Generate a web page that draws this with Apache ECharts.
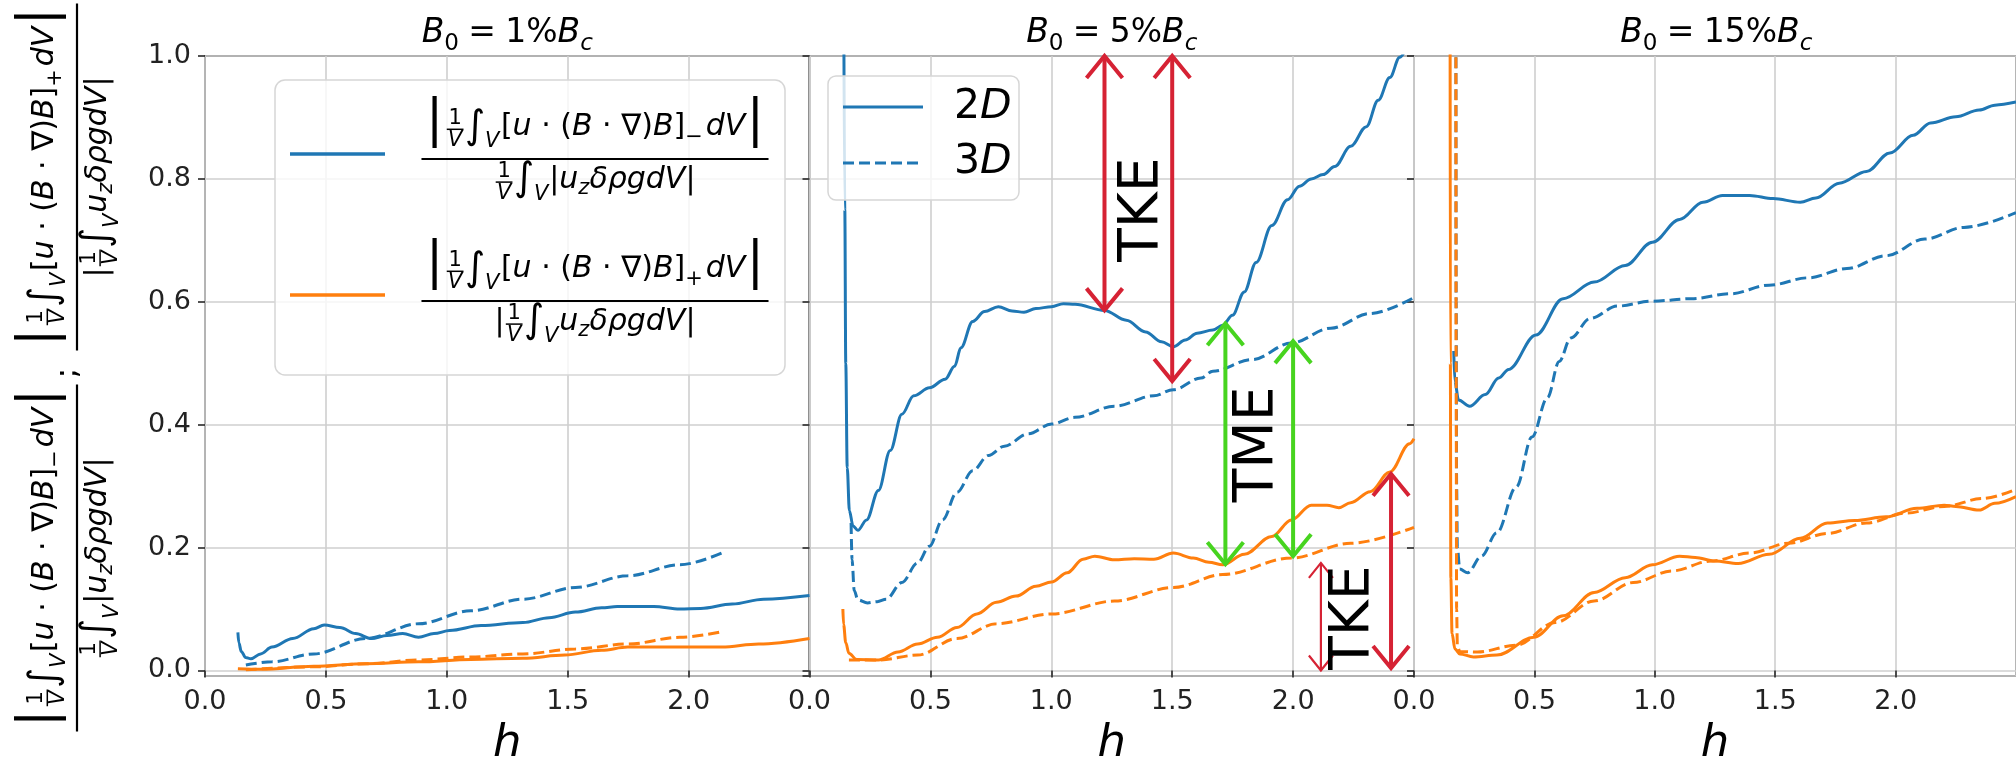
<!DOCTYPE html>
<html>
<head>
<meta charset="utf-8">
<script src="https://cdn.jsdelivr.net/npm/echarts@6/dist/echarts.min.js"></script>
<style>
html,body{margin:0;padding:0;background:#ffffff;}
#chart{width:2016px;height:772px;}
</style>
</head>
<body>
<div id="chart"></div>
<script>
// ---------------- DATA ----------------
const hTickLabels = ['0.0', '0.5', '1.0', '1.5', '2.0'];
const yTickLabels = ['0.0', '0.2', '0.4', '0.6', '0.8', '1.0'];
const fieldPercent = ['1', '5', '15'];          // B0 = x% Bc

// Panel 1 : B0 = 1% Bc   ([h, ratio])
const p1_2D_minus = [[0.136,0.062],[0.14,0.045],[0.15,0.031],[0.168,0.021],[0.19,0.019],[0.23,0.027],[0.277,0.038],[0.363,0.052],[0.45,0.068],[0.493,0.074],[0.558,0.070],[0.623,0.060],[0.688,0.052],[0.753,0.057],[0.818,0.060],[0.883,0.054],[0.947,0.060],[1.012,0.065],[1.142,0.073],[1.315,0.078],[1.423,0.086],[1.532,0.095],[1.64,0.102],[1.705,0.104],[1.856,0.104],[1.964,0.100],[2.05,0.101],[2.18,0.108],[2.31,0.116],[2.5,0.122]];
const p1_3D_minus = [[0.169,0.009],[0.277,0.014],[0.45,0.027],[0.666,0.052],[0.883,0.076],[1.099,0.097],[1.315,0.116],[1.532,0.135],[1.748,0.154],[1.964,0.172],[2.137,0.191]];
const p1_2D_plus  = [[0.136,0.003],[0.234,0.002],[0.45,0.007],[0.666,0.011],[0.883,0.014],[1.099,0.018],[1.315,0.020],[1.488,0.025],[1.64,0.033],[1.748,0.038],[1.964,0.038],[2.137,0.038],[2.29,0.043],[2.5,0.052]];
const p1_3D_plus  = [[0.169,0.001],[0.45,0.006],[0.666,0.011],[0.883,0.017],[1.099,0.022],[1.315,0.027],[1.532,0.035],[1.748,0.043],[1.964,0.054],[2.137,0.063]];

// Panel 2 : B0 = 5% Bc
const p2_2D_minus = [[0.142,1.05],[0.146,0.75],[0.15,0.5],[0.156,0.33],[0.165,0.26],[0.18,0.235],[0.2,0.228],[0.236,0.245],[0.285,0.293],[0.334,0.358],[0.382,0.417],[0.431,0.447],[0.496,0.460],[0.561,0.474],[0.6,0.495],[0.626,0.525],[0.675,0.568],[0.724,0.584],[0.781,0.592],[0.838,0.585],[0.887,0.583],[0.936,0.589],[1.001,0.592],[1.05,0.597],[1.098,0.596],[1.22,0.586],[1.31,0.570],[1.39,0.551],[1.456,0.535],[1.505,0.527],[1.554,0.538],[1.603,0.549],[1.668,0.554],[1.709,0.562],[1.749,0.578],[1.798,0.616],[1.847,0.664],[1.912,0.724],[1.977,0.766],[2.026,0.788],[2.075,0.800],[2.124,0.807],[2.172,0.820],[2.238,0.853],[2.303,0.885],[2.352,0.928],[2.40,0.965],[2.441,0.998],[2.5,1.05]];
const p2_3D_minus = [[0.172,0.24],[0.176,0.18],[0.185,0.13],[0.2,0.115],[0.24,0.110],[0.28,0.112],[0.317,0.116],[0.382,0.143],[0.447,0.175],[0.496,0.202],[0.55,0.245],[0.61,0.29],[0.675,0.325],[0.74,0.35],[0.806,0.365],[0.903,0.385],[1.001,0.401],[1.098,0.412],[1.261,0.430],[1.424,0.447],[1.505,0.457],[1.619,0.476],[1.668,0.487],[1.831,0.506],[1.993,0.533],[2.156,0.557],[2.319,0.581],[2.5,0.607]];
const p2_2D_plus  = [[0.138,0.10],[0.141,0.075],[0.15,0.045],[0.163,0.028],[0.195,0.018],[0.285,0.017],[0.366,0.030],[0.447,0.043],[0.529,0.054],[0.61,0.070],[0.692,0.092],[0.773,0.111],[0.854,0.121],[0.936,0.137],[1.001,0.144],[1.066,0.159],[1.131,0.181],[1.18,0.186],[1.261,0.180],[1.343,0.182],[1.424,0.181],[1.505,0.191],[1.587,0.183],[1.652,0.176],[1.709,0.172],[1.798,0.189],[1.912,0.218],[1.993,0.245],[2.075,0.269],[2.14,0.269],[2.189,0.265],[2.238,0.273],[2.319,0.291],[2.40,0.323],[2.482,0.369],[2.5,0.377]];
const p2_3D_plus  = [[0.163,0.017],[0.285,0.017],[0.447,0.025],[0.61,0.052],[0.773,0.076],[1.001,0.092],[1.261,0.113],[1.505,0.135],[1.709,0.156],[1.993,0.183],[2.238,0.207],[2.5,0.233]];

// Panel 3 : B0 = 15% Bc
const p3_2D_minus = [[0.165,0.52],[0.17,0.47],[0.185,0.44],[0.231,0.430],[0.296,0.449],[0.352,0.476],[0.393,0.49],[0.506,0.546],[0.619,0.605],[0.748,0.632],[0.877,0.659],[0.99,0.697],[1.103,0.734],[1.2,0.762],[1.281,0.773],[1.394,0.773],[1.491,0.768],[1.604,0.762],[1.669,0.769],[1.766,0.793],[1.879,0.812],[1.976,0.842],[2.073,0.871],[2.145,0.891],[2.25,0.901],[2.347,0.912],[2.412,0.920],[2.5,0.925]];
const p3_3D_minus = [[0.174,1.05],[0.175,0.6],[0.177,0.3],[0.18,0.2],[0.19,0.165],[0.223,0.159],[0.28,0.186],[0.344,0.224],[0.425,0.299],[0.49,0.38],[0.554,0.444],[0.603,0.503],[0.651,0.541],[0.732,0.573],[0.845,0.593],[0.99,0.601],[1.152,0.605],[1.313,0.613],[1.475,0.627],[1.637,0.639],[1.798,0.654],[1.96,0.675],[2.121,0.702],[2.283,0.721],[2.5,0.745]];
const p3_2D_plus  = [[0.150,1.05],[0.151,0.5],[0.153,0.15],[0.158,0.06],[0.17,0.035],[0.19,0.027],[0.247,0.022],[0.344,0.025],[0.498,0.054],[0.619,0.089],[0.748,0.127],[0.877,0.151],[0.99,0.172],[1.103,0.186],[1.168,0.184],[1.249,0.178],[1.346,0.174],[1.475,0.189],[1.604,0.215],[1.717,0.240],[1.83,0.244],[1.96,0.250],[2.089,0.264],[2.202,0.269],[2.25,0.267],[2.347,0.261],[2.412,0.272],[2.5,0.283]];
const p3_3D_plus  = [[0.174,1.05],[0.175,0.5],[0.177,0.1],[0.18,0.04],[0.19,0.031],[0.263,0.030],[0.425,0.041],[0.586,0.078],[0.748,0.113],[0.91,0.143],[1.071,0.162],[1.233,0.178],[1.394,0.191],[1.556,0.207],[1.717,0.223],[1.879,0.240],[2.04,0.256],[2.202,0.267],[2.363,0.280],[2.5,0.295]];

// Annotations in panel 2 (double arrows and labels), in data units
const arrowH      = [1.22, 1.50, 1.72, 2.00, 2.115, 2.405];
const arrowTop    = [1.00, 1.00, 0.565, 0.536, 0.175, 0.32];
const arrowBottom = [0.586, 0.471, 0.173, 0.186, 0.0, 0.004];
const arrowKind   = ['tke', 'tke', 'tme', 'tme', 'tkeThin', 'tke'];
const annotText   = ['TKE', 'TME', 'TKE'];
const annotH      = [1.38, 1.855, 2.25];
const annotV      = [0.75, 0.368, 0.086];

// ---------------- STYLE / LAYOUT ----------------
const FONT = '"DejaVu Sans"';
const BLUE = '#1f77b4', ORANGE = '#ff7f0e';
const DASH = [11, 5];
const GRID_LEFT = [205, 809.5, 1414];
const GRID_W = 604.5, GRID_TOP = 56, GRID_H = 624.7;
const ARROW_STYLE = {
  tke:     {color: '#d62234', w: 4,   head: 18, len: 22},
  tme:     {color: '#47d41f', w: 4,   head: 18, len: 22},
  tkeThin: {color: '#d62234', w: 2.2, head: 12, len: 15}
};

// ---------------- MATH TEXT LAYOUT HELPER ----------------
const mctx = document.createElement('canvas').getContext('2d');
function mw(text, size, it) { mctx.font = (it ? 'italic ' : '') + size + 'px ' + FONT; return mctx.measureText(text).width; }
const MID = 0.346;
function row(tokens, S) {
  const els = []; let x = 0;
  for (const t of tokens) {
    if (t.sp !== undefined) { x += t.sp * S; continue; }
    if (t.frac) {
      const fs = 0.7 * S;
      const wn = mw(t.frac[0], fs, false), wd = mw(t.frac[1], fs, true);
      const w = Math.max(wn, wd) + 0.16 * S;
      const ax = -0.27 * S;
      els.push({kind: 'text', text: t.frac[0], x: x + w / 2, base: ax - 0.1 * S, size: fs, it: false, align: 'center'});
      els.push({kind: 'text', text: t.frac[1], x: x + w / 2, base: ax + 0.1 * S + 0.73 * fs, size: fs, it: true, align: 'center'});
      els.push({kind: 'line', x1: x + 0.04 * S, x2: x + w - 0.04 * S, y: ax, lw: Math.max(1.2, 0.05 * S)});
      x += w; continue;
    }
    const size = (t.k || 1) * S;
    const w = mw(t.s, size, !!t.it);
    els.push({kind: 'text', text: t.s, x: x, base: (t.dy || 0) * S, size: size, it: !!t.it, align: 'left'});
    x += w + (t.after || 0) * S;
  }
  return {els: els, width: x};
}
function toGraphic(els, ox, oy, color, z) {
  return els.map(e => e.kind === 'text'
    ? {type: 'text', z: z, x: ox + e.x, y: oy + e.base - MID * e.size,
       style: {text: e.text, font: (e.it ? 'italic ' : '') + e.size + 'px ' + FONT, fill: color, align: e.align, verticalAlign: 'middle'}}
    : {type: 'line', z: z, shape: {x1: ox + e.x1, y1: oy + e.y, x2: ox + e.x2, y2: oy + e.y}, style: {stroke: color, lineWidth: e.lw}});
}
function fraction(numT, denT, S, z) {
  const n = row(numT, S), d = row(denT, S);
  const barW = Math.max(n.width, d.width) + 0.3 * S;
  return [].concat(
    toGraphic(n.els, -n.width / 2, -0.72 * S, '#000', z),
    toGraphic(d.els, -d.width / 2, 1.04 * S, '#000', z),
    [{type: 'line', z: z, shape: {x1: -barW / 2, y1: 0, x2: barW / 2, y2: 0}, style: {stroke: '#000', lineWidth: 2.2}}]
  );
}
const NUM = sign => [
  {s: '|', k: 1.7, dy: 0.05, after: 0.08},
  {frac: ['1', 'V']},
  {s: '\u222B', k: 1.3, dy: 0.12},
  {s: 'V', k: 0.7, it: true, dy: 0.38, after: 0.05},
  {s: '['}, {s: 'u', it: true}, {s: ' \u00B7 ('}, {s: 'B', it: true}, {s: ' \u00B7 \u2207)'}, {s: 'B', it: true}, {s: ']'},
  {s: sign, k: 0.7, dy: 0.25, after: 0.1},
  {s: 'dV', it: true, after: 0.05},
  {s: '|', k: 1.7, dy: 0.05}
];
const DEN_A = [ // 1/V ∫_V |u_z δρ g dV|
  {frac: ['1', 'V']}, {s: '\u222B', k: 1.3, dy: 0.12}, {s: 'V', k: 0.7, it: true, dy: 0.38, after: 0.03},
  {s: '|'}, {s: 'u', it: true}, {s: 'z', k: 0.7, it: true, dy: 0.2}, {s: '\u03B4\u03C1gdV', it: true}, {s: '|'}
];
const DEN_B = [ // |1/V ∫_V u_z δρ g dV|
  {s: '|'}, {frac: ['1', 'V']}, {s: '\u222B', k: 1.3, dy: 0.12}, {s: 'V', k: 0.7, it: true, dy: 0.38, after: 0.03},
  {s: 'u', it: true}, {s: 'z', k: 0.7, it: true, dy: 0.2}, {s: '\u03B4\u03C1gdV', it: true}, {s: '|'}
];
const MS = 30;
const TITLE = p => [
  {s: 'B', it: true}, {s: '0', k: 0.7, dy: 0.2},
  {sp: 0.28}, {s: '='}, {sp: 0.28},
  {s: p + '%'}, {s: 'B', it: true}, {s: 'c', k: 0.7, it: true, dy: 0.2}
];

// ---------------- CHART ----------------
const chart = echarts.init(document.getElementById('chart'), null, {renderer: 'canvas', width: 2016, height: 772});

const grids = GRID_LEFT.map(l => ({left: l, top: GRID_TOP, width: GRID_W, height: GRID_H, show: true,
  borderColor: '#262626', borderWidth: 1.6, backgroundColor: 'transparent', containLabel: false}));

const axisTextStyle = {fontFamily: FONT, fontSize: 27, color: '#222'};
const xAxes = GRID_LEFT.map((l, i) => ({
  type: 'value', gridIndex: i, min: 0, max: 2.5, interval: 0.5,
  name: 'h', nameLocation: 'middle', nameGap: 46,
  nameTextStyle: {fontFamily: FONT, fontSize: 45, fontStyle: 'italic', color: '#000'},
  axisLine: {show: false},
  axisTick: {show: true, length: 7, lineStyle: {color: '#262626', width: 1.6}},
  axisLabel: Object.assign({margin: 12, showMaxLabel: false,
    formatter: v => { const k = Math.round(v / 0.5); return hTickLabels[k] || ''; }}, axisTextStyle),
  splitLine: {show: true, lineStyle: {color: '#cfcfcf', width: 1.6}}
}));
const yAxes = GRID_LEFT.map((l, i) => ({
  type: 'value', gridIndex: i, min: -0.009, max: 1.0, splitNumber: 5,
  axisLine: {show: false},
  axisTick: {show: true, length: 7, lineStyle: {color: '#262626', width: 1.6}},
  axisLabel: Object.assign({show: i === 0, margin: 14, showMinLabel: false,
    formatter: v => { if (v < -0.001) return ''; const k = Math.round(v / 0.2); return yTickLabels[k] || ''; }}, axisTextStyle),
  splitLine: {show: true, lineStyle: {color: '#cfcfcf', width: 1.6}}
}));

function lineSeries(name, data, idx, color, dashed) {
  return {
    name: name, type: 'line', xAxisIndex: idx, yAxisIndex: idx, data: data,
    showSymbol: false, symbol: 'none', smooth: 0.35, smoothMonotone: 'x', clip: true,
    lineStyle: {color: color, width: 3, type: dashed ? DASH : 'solid', cap: 'butt'},
    itemStyle: {color: color}, z: 3, silent: true
  };
}

const series = [
  lineSeries('1% 2D minus', p1_2D_minus, 0, BLUE, false),
  lineSeries('1% 3D minus', p1_3D_minus, 0, BLUE, true),
  lineSeries('1% 2D plus', p1_2D_plus, 0, ORANGE, false),
  lineSeries('1% 3D plus', p1_3D_plus, 0, ORANGE, true),
  lineSeries('2D', p2_2D_minus, 1, BLUE, false),
  lineSeries('3D', p2_3D_minus, 1, BLUE, true),
  lineSeries('5% 2D plus', p2_2D_plus, 1, ORANGE, false),
  lineSeries('5% 3D plus', p2_3D_plus, 1, ORANGE, true),
  lineSeries('15% 2D minus', p3_2D_minus, 2, BLUE, false),
  lineSeries('15% 3D minus', p3_3D_minus, 2, BLUE, true),
  lineSeries('15% 2D plus', p3_2D_plus, 2, ORANGE, false),
  lineSeries('15% 3D plus', p3_3D_plus, 2, ORANGE, true),
  {
    name: 'arrows', type: 'custom', xAxisIndex: 1, yAxisIndex: 1, clip: false, z: 5, silent: true,
    data: arrowH.map((h, i) => [h, arrowTop[i], arrowBottom[i], i]),
    renderItem: function (params, api) {
      const st = ARROW_STYLE[arrowKind[api.value(3)]];
      const p1 = api.coord([api.value(0), api.value(1)]);
      const p2 = api.coord([api.value(0), api.value(2)]);
      const x = p1[0];
      const ls = {stroke: st.color, lineWidth: st.w, fill: null, lineJoin: 'miter', lineCap: 'butt'};
      return {type: 'group', children: [
        {type: 'line', shape: {x1: x, y1: p1[1], x2: x, y2: p2[1]}, style: ls},
        {type: 'polyline', shape: {points: [[x - st.head, p1[1] + st.len], [x, p1[1]], [x + st.head, p1[1] + st.len]]}, style: ls},
        {type: 'polyline', shape: {points: [[x - st.head, p2[1] - st.len], [x, p2[1]], [x + st.head, p2[1] - st.len]]}, style: ls}
      ]};
    }
  },
  {
    name: 'labels', type: 'custom', xAxisIndex: 1, yAxisIndex: 1, clip: false, z: 6, silent: true,
    data: annotH.map((h, i) => [h, annotV[i], i]),
    renderItem: function (params, api) {
      const p = api.coord([api.value(0), api.value(1)]);
      return {type: 'text', x: p[0], y: p[1], rotation: Math.PI / 2,
        style: {text: annotText[api.value(2)], font: '55px ' + FONT, fill: '#000', align: 'center', verticalAlign: 'middle'}};
    }
  }
];

const titleCenters = GRID_LEFT.map(l => l + GRID_W / 2);

// legends, titles and y label (graphic)
const g = [];
// panel titles
fieldPercent.forEach((p, i) => {
  const r = row(TITLE(p), 33);
  toGraphic(r.els, titleCenters[i] - r.width / 2, 45, '#000', 20).forEach(e => g.push(e));
});
// legend 1 (panel 1)
g.push({type: 'rect', z: 50, shape: {x: 275, y: 80, width: 510, height: 295, r: 10},
  style: {fill: 'rgba(255,255,255,0.8)', stroke: '#d6d6d6', lineWidth: 1.5}});
g.push({type: 'line', z: 51, shape: {x1: 290, y1: 154, x2: 385, y2: 154}, style: {stroke: BLUE, lineWidth: 3.5}});
g.push({type: 'line', z: 51, shape: {x1: 290, y1: 295, x2: 385, y2: 295}, style: {stroke: ORANGE, lineWidth: 3.5}});
g.push({type: 'group', z: 51, x: 595, y: 159, children: fraction(NUM('\u2212'), DEN_A, MS, 51)});
g.push({type: 'group', z: 51, x: 595, y: 301, children: fraction(NUM('+'), DEN_B, MS, 51)});
// legend 2 (panel 2)
g.push({type: 'rect', z: 50, shape: {x: 828, y: 76, width: 191, height: 124, r: 8},
  style: {fill: 'rgba(255,255,255,0.8)', stroke: '#d6d6d6', lineWidth: 1.5}});
g.push({type: 'line', z: 51, shape: {x1: 843, y1: 107, x2: 923, y2: 107}, style: {stroke: BLUE, lineWidth: 3}});
g.push({type: 'line', z: 51, shape: {x1: 843, y1: 163, x2: 923, y2: 163}, style: {stroke: BLUE, lineWidth: 3, lineDash: DASH}});
const l2a = row([{s: '2'}, {s: 'D', it: true}], 41);
const l2b = row([{s: '3'}, {s: 'D', it: true}], 41);
toGraphic(l2a.els, 954, 122, '#000', 51).forEach(e => g.push(e));
toGraphic(l2b.els, 954, 177, '#000', 51).forEach(e => g.push(e));
// y-axis label (rotated)
g.push({type: 'group', z: 10, x: 77, y: 558, rotation: Math.PI / 2, children: fraction(NUM('\u2212'), DEN_A, MS, 10)});
g.push({type: 'group', z: 10, x: 77, y: 177, rotation: Math.PI / 2, children: fraction(NUM('+'), DEN_B, MS, 10)});
g.push({type: 'text', z: 10, x: 68, y: 373, rotation: Math.PI / 2,
  style: {text: ';', font: '32px ' + FONT, fill: '#000', align: 'center', verticalAlign: 'middle'}});

chart.setOption({
  animation: false,
  backgroundColor: '#ffffff',
  grid: grids,
  xAxis: xAxes,
  yAxis: yAxes,
  series: series,
  graphic: {elements: g}
});
</script>
</body>
</html>
